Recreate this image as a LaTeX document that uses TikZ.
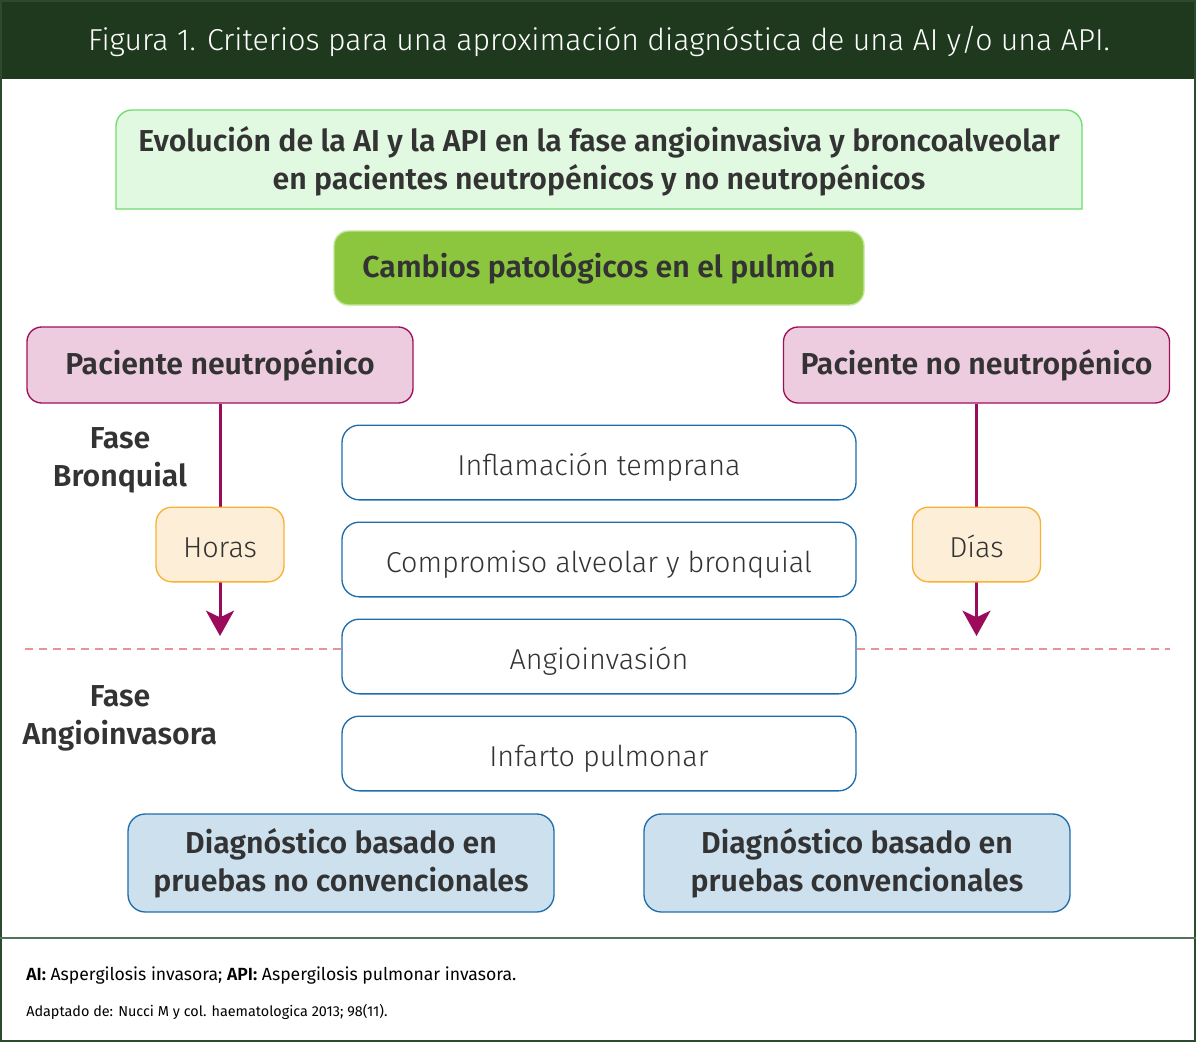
\documentclass[tikz,border=0pt]{standalone}
\usepackage{fontspec}
\setmainfont{Fira Sans}[UprightFont={* Light}, BoldFont={* SemiBold}]
\newfontfamily\regfont{Fira Sans}[BoldFont={* SemiBold}]
\usetikzlibrary{arrows.meta}
\definecolor{hdr}{HTML}{1E391E}
\definecolor{framec}{HTML}{2E4A2E}
\definecolor{sepc}{HTML}{56705A}
\definecolor{txtc}{HTML}{333333}
\definecolor{hfill}{HTML}{E1F8E1}
\definecolor{hborder}{HTML}{70DC70}
\definecolor{cfill}{HTML}{8CC63F}
\definecolor{cborder}{HTML}{C2E69A}
\definecolor{pfill}{HTML}{EDCCE0}
\definecolor{pborder}{HTML}{A0105A}
\definecolor{arrc}{HTML}{9C0A5C}
\definecolor{ofill}{HTML}{FDEED8}
\definecolor{oborder}{HTML}{F8B133}
\definecolor{bborder}{HTML}{1F6EAB}
\definecolor{dfill}{HTML}{CCE0EE}
\definecolor{dashc}{HTML}{E79499}
\tikzset{
  boldtxt/.style={text=txtc, font=\bfseries\fontsize{22.7}{28.5}\selectfont, align=center},
  lighttxt/.style={text=txtc, font=\fontsize{21.6}{26}\selectfont, align=center,
     text height=18.8pt, text depth=0pt},
  headtxt/.style={boldtxt, inner sep=0pt},
  cambiobox/.style={boldtxt, draw=cborder, fill=cfill, line width=1pt, rounded corners=11pt,
     minimum width=397.5pt, minimum height=55.5pt},
  pacbox/.style={boldtxt, draw=pborder, fill=pfill, line width=1pt, rounded corners=11pt,
     minimum width=289.5pt, minimum height=57pt},
  timebox/.style={lighttxt, draw=oborder, fill=ofill, line width=1pt, rounded corners=12pt,
     minimum width=96pt, minimum height=56pt},
  stagebox/.style={lighttxt, draw=bborder, fill=white, line width=1pt, rounded corners=13pt,
     minimum width=385.5pt, minimum height=56pt},
  diagbox/.style={boldtxt, draw=bborder, fill=dfill, line width=1pt, rounded corners=13pt,
     minimum width=319.5pt, minimum height=73.5pt},
  phasetxt/.style={boldtxt},
  arr/.style={draw=arrc, line width=2.25pt, -{Stealth[length=19pt, width=21pt, inset=5pt]}},
  dashline/.style={draw=dashc, line width=1.5pt, dash pattern=on 6pt off 4.5pt},
}
\begin{document}
\begin{tikzpicture}[x=0.75pt, y=-0.75pt]
\useasboundingbox (0,0) rectangle (1196,1042);
% frame and header
\fill[white] (0,0) rectangle (1196,1042);
\fill[hdr] (0,0) rectangle (1196,79);
\draw[framec, line width=1.5pt] (1,1) rectangle (1195,1041);
\draw[sepc, line width=1.5pt] (0,938) -- (1196,938);
\node[text=white, font=\fontsize{22.7}{28}\selectfont] (title) at (599,41) {Figura 1. Criterios para una aproximación diagnóstica de una AI y/o una API.};
% heading box (top corners rounded)
\draw[draw=hborder, fill=hfill, line width=1pt] (116,209) -- (116,126) arc[start angle=180, end angle=270, radius=16] -- (1066,110) arc[start angle=270, end angle=360, radius=16] -- (1082,209) -- cycle;
\node[headtxt] (head) at (599,161) {Evolución de la AI y la API en la fase angioinvasiva y broncoalveolar\\en pacientes neutropénicos y no neutropénicos};
% cambios
\node[cambiobox] (cambios) at (599,268) {Cambios patológicos en el pulmón};
% patients
\node[pacbox] (pn) at (220,365) {Paciente neutropénico};
\node[pacbox] (pnn) at (976.5,365) {Paciente no neutropénico};
\coordinate (tipL) at (220,636);
\coordinate (tipR) at (976.5,636);
\draw[arr] (pn.south) -- (tipL);
\draw[arr] (pnn.south) -- (tipR);
\node[timebox] (horas) at (220,544.5) {Horas};
\node[timebox] (dias) at (976.5,544.5) {Días};
% phases
\node[phasetxt] (fb) at (120,460) {Fase\\Bronquial};
\node[phasetxt] (fa) at (120,718) {Fase\\Angioinvasora};
% stages
\node[stagebox] (s1) at (599,462.5) {Inflamación temprana};
\node[stagebox] (s2) at (599,559.5) {Compromiso alveolar y bronquial};
\node[stagebox] (s3) at (599,656.5) {Angioinvasión};
\node[stagebox] (s4) at (599,753.5) {Infarto pulmonar};
% dashed separators
\coordinate (dl) at (25,649);
\coordinate (dr) at (1170,649);
\draw[dashline] (dl) -- (dl -| s3.west);
\draw[dashline] (s3.east |- dr) -- (dr);
% diagnosis
\node[diagbox] (d1) at (341,863) {Diagnóstico basado en\\pruebas no convencionales};
\node[diagbox] (d2) at (857,863) {Diagnóstico basado en\\pruebas convencionales};
% footer
\node[anchor=base west, text=black, font=\regfont\fontsize{13.2}{16}\selectfont, inner sep=0pt] (f1) at (26,980) {\textbf{AI:} Aspergilosis invasora; \textbf{API:} Aspergilosis pulmonar invasora.};
\node[anchor=base west, text=black, font=\regfont\fontsize{10.8}{13}\selectfont, inner sep=0pt] (f2) at (26,1016) {Adaptado de: Nucci M y col. haematologica 2013; 98(11).};
\end{tikzpicture}
\end{document}
